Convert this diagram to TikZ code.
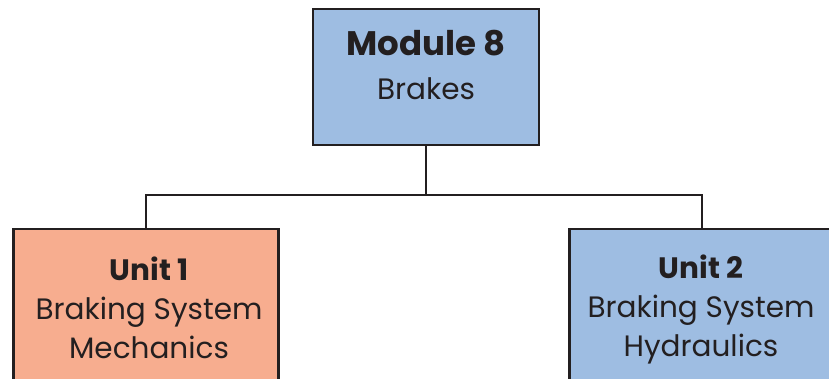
\documentclass[tikz,border=0pt]{standalone}
\usepackage{fontspec}
\setmainfont{Poppins}
\usepackage{tikz}

\definecolor{boxblue}{RGB}{158,189,226}
\definecolor{boxsalmon}{RGB}{247,173,143}
\definecolor{edge}{RGB}{35,31,32}

\tikzset{
 unitbox/.style={draw=edge, line width=2.5pt, minimum width=265pt, minimum height=168pt, inner sep=0pt},
 modbox/.style={draw=edge, line width=2.5pt, fill=boxblue, minimum width=226pt, minimum height=136pt, inner sep=0pt},
 caption/.style={align=center, text=edge, font=\fontsize{29.5}{39}\selectfont},
 link/.style={draw=edge, line width=2pt}
}

\begin{document}
\begin{tikzpicture}[x=1pt, y=1pt]
 \useasboundingbox (0,0) rectangle (829,-378);
 \clip (0,0) rectangle (829,-378);

 \node[modbox] (Module) at (426,-77) {};
 \node[caption, font=\fontsize{29.5}{44}\selectfont] (ModuleText) at (426,-65) {{\fontsize{34}{44}\selectfont\bfseries Module 8}\\Brakes};

 \node[unitbox, fill=boxsalmon] (Unit1) at (146,-313) {};
 \node[caption] (Unit1Text) at (149,-308) {{\bfseries Unit 1}\\Braking System\\Mechanics};

 \node[unitbox, fill=boxblue] (Unit2) at (702,-313) {};
 \node[caption] (Unit2Text) at (701,-309) {{\bfseries Unit 2}\\Braking System\\Hydraulics};

 \coordinate (split) at (426,-195);

 \draw[link] (Module.south) -- (split);
 \draw[link] (split) -| (Unit1.north);
 \draw[link] (split) -| (Unit2.north);
\end{tikzpicture}
\end{document}
